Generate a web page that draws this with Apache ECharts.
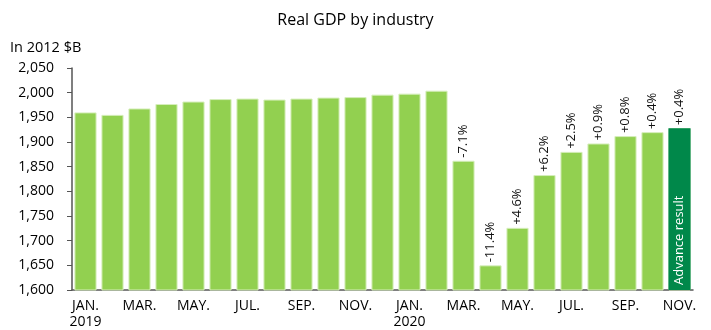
<!DOCTYPE html>
<html><head><meta charset="utf-8">
<script src="https://cdn.jsdelivr.net/npm/echarts@6/dist/echarts.min.js"></script>
<style>html,body{margin:0;padding:0;background:#fff}#c{width:711px;height:330px}</style>
</head><body><div id="c"></div>
<script>
var categories = ['JAN.\n2019','FEB.','MAR.','APR.','MAY.','JUN.','JUL.','AUG.','SEP.','OCT.','NOV.','DEC.',
  'JAN.\n2020','FEB.','MAR.','APR.','MAY.','JUN.','JUL.','AUG.','SEP.','OCT.','NOV.'];
var gdpValues = [1960,1955,1968,1977,1982,1987,1988,1986,1988,1990,1991,1996,
  1998,2004,1862,1650,1726,1833,1880,1897,1912,1920,1928];
var changeLabels = ['','','','','','','','','','','','','','','-7.1%','-11.4%','+4.6%','+6.2%','+2.5%','+0.9%','+0.8%','+0.4%','+0.4%'];
var yTicks = {min:1600, max:2050, interval:50};
var advanceIndex = 22;

var FONT = '"Open Sans", sans-serif';
var mainData = gdpValues.map(function(v,i){
  return i === advanceIndex ? {value:v, itemStyle:{color:'#00884A'}} : v;
});
var advData = gdpValues.map(function(v,i){ return i === advanceIndex ? v : '-'; });

var chart = echarts.init(document.getElementById('c'));
chart.setOption({
  animation:false,
  title:[{text:'Real GDP by industry', left:'center', top:7,
    textStyle:{fontFamily:FONT, fontSize:16, fontWeight:'normal', color:'#000'}},
    {text:'In 2012 $B', left:5, top:35,
    textStyle:{fontFamily:FONT, fontSize:14.5, fontWeight:'normal', color:'#000'}}],
  grid:{left:72, right:18, top:68, bottom:37},
  xAxis:{type:'category', data:categories,
    axisLine:{lineStyle:{color:'#555', width:1.5}},
    axisTick:{show:false},
    axisLabel:{interval:1, fontFamily:FONT, fontSize:14, color:'#000', lineHeight:16, margin:8}},
  yAxis:{type:'value', min:yTicks.min, max:yTicks.max, interval:yTicks.interval,
    splitLine:{show:false},
    axisLine:{show:true, lineStyle:{color:'#555', width:1.5}},
    axisTick:{show:true, length:5, lineStyle:{color:'#555'}},
    axisLabel:{fontFamily:FONT, fontSize:14, color:'#000', margin:18,
      formatter:function(v){return echarts.format.addCommas(v);}}},
  series:[{type:'bar', data:mainData, barCategoryGap:'18%',
      itemStyle:{color:'#92D050', borderColor:'#d6eebb', borderWidth:1},
      label:{show:true, position:'top', rotate:90, align:'left', verticalAlign:'middle', distance:3,
        fontFamily:FONT, fontSize:13, color:'#111',
        formatter:function(p){return changeLabels[p.dataIndex];}}},
    {type:'bar', data:advData, barGap:'-100%', barCategoryGap:'18%',
      itemStyle:{color:'#00884A'},
      label:{show:true, position:'insideBottom', rotate:90, align:'left', verticalAlign:'middle', distance:5,
        fontFamily:FONT, fontSize:13, color:'#fff', formatter:'Advance result'}}]
});
</script></body></html>
